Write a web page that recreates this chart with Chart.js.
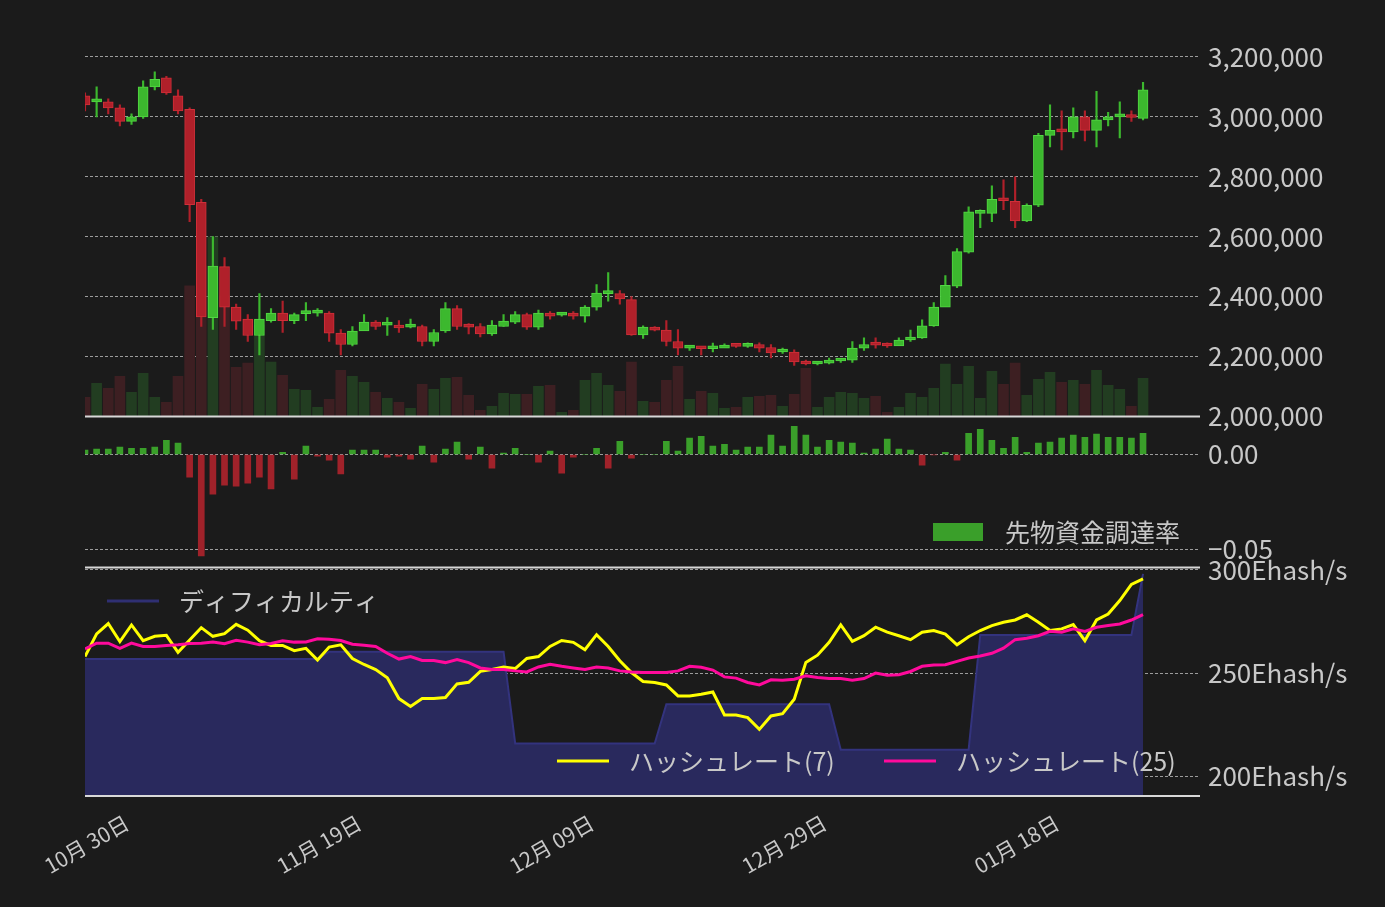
<!DOCTYPE html>
<html><head><meta charset="utf-8">
<script src="https://cdn.jsdelivr.net/npm/chart.js@4/dist/chart.umd.min.js"></script>
<style>
html,body{margin:0;padding:0;background:#1b1b1b;width:1385px;height:907px;overflow:hidden}
canvas{position:absolute;left:0}
</style></head><body>
<canvas id="c1" style="top:0" width="1385" height="440"></canvas>
<canvas id="c2" style="top:392px" width="1385" height="199"></canvas>
<canvas id="c3" style="top:542px" width="1385" height="365"></canvas>
<script>
const dateLabels = ["10月 30日","11月 19日","12月 09日","12月 29日","01月 18日"];
const dateTickIdx = [0,20,40,60,80];
const priceTicks = [2000000,2200000,2400000,2600000,2800000,3000000,3200000];
const opens = [3070,3050,3050,3030,2985,3000,3100,3130,3070,3025,2715,2330,2500,2365,2325,2270,2320,2345,2320,2343,2345,2345,2278,2240,2285,2315,2305,2305,2298,2300,2250,2285,2360,2305,2300,2275,2300,2315,2340,2298,2345,2338,2338,2335,2365,2410,2410,2390,2272,2298,2288,2250,2228,2230,2226,2228,2238,2234,2240,2230,2215,2215,2182,2175,2178,2185,2188,2228,2240,2238,2235,2255,2262,2302,2365,2435,2548,2678,2678,2725,2718,2653,2705,2938,2955,2950,3000,2955,2990,3000,3005,2995];
const closes = [3040,3052,3030,2985,3000,3100,3125,3080,3020,2707,2332,2502,2365,2318,2270,2325,2345,2320,2340,2343,2345,2278,2240,2285,2315,2300,2305,2295,2298,2250,2280,2360,2300,2298,2275,2305,2318,2340,2298,2345,2335,2338,2335,2365,2412,2410,2392,2272,2298,2288,2250,2228,2228,2226,2230,2238,2234,2240,2228,2212,2215,2182,2175,2178,2185,2188,2228,2240,2238,2235,2255,2262,2302,2365,2438,2550,2683,2678,2725,2720,2653,2705,2938,2955,2950,3000,2955,2990,3000,3005,2998,3090];
const highs = [3080,3100,3060,3040,3010,3120,3150,3135,3090,3030,2725,2600,2530,2375,2340,2410,2360,2385,2345,2380,2360,2350,2290,2300,2340,2320,2330,2320,2325,2305,2290,2380,2370,2310,2310,2320,2340,2350,2345,2355,2350,2345,2350,2370,2440,2480,2420,2400,2302,2300,2320,2290,2235,2232,2245,2242,2244,2246,2246,2240,2228,2222,2188,2182,2195,2190,2250,2262,2262,2246,2262,2288,2322,2380,2470,2560,2700,2690,2770,2790,2800,2710,2945,3040,3020,3030,3020,3085,3015,3050,3020,3115];
const lows = [3020,3000,3010,2970,2975,2995,3090,3075,3010,2650,2300,2290,2300,2290,2250,2205,2315,2280,2310,2320,2335,2250,2205,2235,2305,2290,2270,2280,2295,2235,2235,2280,2290,2275,2265,2270,2300,2310,2290,2290,2325,2335,2325,2315,2355,2385,2375,2270,2260,2285,2235,2205,2220,2205,2215,2230,2230,2230,2215,2195,2210,2170,2172,2172,2175,2180,2180,2220,2228,2230,2240,2250,2260,2300,2370,2430,2545,2630,2650,2690,2630,2650,2700,2900,2890,2930,2920,2900,2970,2930,2985,2990];
const volumes = [19,33,28,40,24,43,19,14,40,130,150,179,120,49,53,91,54,41,27,26,9,17,46,40,34,24,18,14,8,32,27,38,39,21,6,10,23,22,22,30,31,4,6,36,43,31,25,54,15,14,36,50,17,25,23,8,9,19,20,21,10,22,48,9,19,24,23,18,20,4,9,23,19,28,52,32,50,18,45,32,53,21,37,44,34,36,32,46,31,27,10,38];
const funding = [0.0023,0.0028,0.0028,0.0039,0.0033,0.0033,0.0039,0.0075,0.0060,-0.0119,
-0.0535,-0.0209,-0.0161,-0.0167,-0.0151,-0.0119,-0.0182,0.0012,-0.0130,0.0044,
-0.0009,-0.0030,-0.0103,0.0023,0.0023,0.0023,-0.0014,-0.0009,-0.0025,0.0044,
-0.0040,0.0028,0.0065,-0.0025,0.0039,-0.0072,0.0007,0.0033,0,-0.0040,
0.0018,-0.0098,-0.0014,0,0.0033,-0.0072,0.0070,-0.0019,0,0,
0.0070,0.0018,0.0086,0.0096,0.0044,0.0054,0.0023,0.0039,0.0039,0.0102,
0.0044,0.0149,0.0102,0.0039,0.0075,0.0065,0.0060,0.0007,0.0028,0.0081,
0.0028,0.0023,-0.0056,-0.0002,0.0012,-0.0030,0.0112,0.0133,0.0075,0.0033,
0.0091,0.0012,0.0060,0.0065,0.0086,0.0102,0.0091,0.0107,0.0091,0.0091,
0.0086,0.0112];
const hash7 = [258,269,274,265.3,273.3,265.7,267.8,268.3,260.1,266,272,267.8,269.1,273.6,270.8,265.7,263.4,263.4,260.9,262,256.3,262.6,263.7,257.1,254.2,251.7,247.8,237.7,233.9,237.7,237.7,238.2,244.8,245.6,250.9,251.8,253,252.2,257.1,258,262.9,265.8,264.9,261.3,268.6,262.9,256,
250.3,246,245.5,244.3,239,239,239.8,240.9,229.8,229.8,228.5,222.8,229.3,230.4,237.4,255.2,258.7,264.9,273.3,265.4,268.1,272.2,269.8,268.1,266.2,269.8,270.6,268.9,263.7,267.6,270.6,273,274.6,275.7,278.2,274.6,270.6,271.4,273.5,265.7,275.7,278.6,285.1,292.9,295.6];
const hash25 = [261.7,264.5,264.5,262,264.5,262.9,262.9,263.4,263.7,264.3,264.5,265,264.2,265.9,265,263.7,264.3,265.7,265,265.1,266.6,266.4,265.8,264,263.5,262.9,259.6,256.8,258,256.1,256.1,255.1,256.6,255.1,252.5,251.8,251.8,251.1,250.6,253,254.3,253.3,252.5,251.8,253,252.5,251.1,
250.6,250.3,250.3,250.3,251.1,253.3,252.8,251.5,248.2,247.6,245.5,244.3,246.8,246.6,247.1,248.7,247.9,247.4,247.4,246.6,247.4,250,249,249.2,250.8,253.3,253.9,254.1,255.7,257.3,258.3,259.6,262.1,266.2,266.9,268.1,270.2,269.8,271.4,270.2,272.2,273,273.8,275.7,278.3];
const difficulty = [256.8,256.8,256.8,256.8,256.8,256.8,256.8,256.8,256.8,256.8,256.8,256.8,256.8,256.8,256.8,256.8,256.8,256.8,256.8,256.8,256.8,
260.4,260.4,260.4,260.4,260.4,260.4,260.4,260.4,260.4,260.4,260.4,260.4,260.4,260.4,260.4,260.4,
216,216,216,216,216,216,216,216,216,216,216,216,216,
235,235,235,235,235,235,235,235,235,235,235,235,235,235,235,
213,213,213,213,213,213,213,213,213,213,213,213,
268.4,268.4,268.4,268.4,268.4,268.4,268.4,268.4,268.4,268.4,268.4,268.4,268.4,268.4,298];

const FONT = "'Noto Sans CJK JP','Noto Sans',sans-serif";
const TXT = '#c8c8c8';
const XMAX = 95.9;
const GREEN='#3cb82e', GREEN_B='#52d843', RED='#b0202a', RED_B='#d12f39';

function sepLine(){return {id:'sep',afterDraw(ch){const a=ch.chartArea,c=ch.ctx;c.save();c.strokeStyle='#d8d8d8';c.lineWidth=2;c.beginPath();c.moveTo(a.left,a.bottom);c.lineTo(a.right,a.bottom);c.stroke();c.restore();}};}
function yAxis(min,max,ticks,fmt){return {position:'right',min,max,
  afterBuildTicks(s){s.ticks=ticks.map(v=>({value:v}));},
  afterFit(s){s.width=185;},
  grid:{color:'rgba(200,200,200,0.75)',lineWidth:1,drawTicks:false},
  border:{display:false,dash:[3,2]},
  ticks:{color:TXT,font:{family:FONT,size:26},padding:8,callback:fmt}};}
const xHidden={type:'linear',min:0,max:XMAX,display:false,offset:false};

const idx = closes.map((_,i)=>i);
const up = idx.map(i=>closes[i]>=opens[i]);

new Chart(document.getElementById('c1'),{
  type:'bar',
  data:{datasets:[
    {data:idx.map(i=>({x:i,y:[opens[i]*1000,closes[i]*1000]})),backgroundColor:idx.map(i=>up[i]?GREEN:RED),borderColor:idx.map(i=>up[i]?GREEN_B:RED_B),borderWidth:1,borderSkipped:false,barThickness:10,minBarLength:3,order:1,grouped:false},
    {data:idx.map(i=>({x:i,y:[lows[i]*1000,highs[i]*1000]})),backgroundColor:idx.map(i=>up[i]?GREEN:RED),barThickness:1.5,order:2,grouped:false},
    {data:idx.map(i=>({x:i,y:volumes[i]})),yAxisID:'v',backgroundColor:idx.map(i=>up[i]?'#223d21':'#3d1f22'),barThickness:10,order:3,grouped:false}
  ]},
  options:{animation:false,responsive:false,devicePixelRatio:1,
    layout:{padding:{left:85,top:42,bottom:8}},
    plugins:{legend:{display:false},tooltip:{enabled:false}},
    scales:{x:xHidden,
      y:yAxis(2000000,3250000,priceTicks,v=>v.toLocaleString('en-US')),
      v:{display:false,min:0,max:373}}},
  plugins:[sepLine()]
});

new Chart(document.getElementById('c2'),{
  type:'bar',
  data:{datasets:[{label:'先物資金調達率',data:idx.map(i=>({x:i,y:funding[i]})),backgroundColor:idx.map(i=>funding[i]>=0?'#3a9f2a':'#a0222a'),barThickness:6}]},
  options:{animation:false,responsive:false,devicePixelRatio:1,
    layout:{padding:{left:85,top:11,bottom:4}},
    plugins:{legend:{display:false},tooltip:{enabled:false}},
    scales:{x:xHidden,y:yAxis(-0.0595,0.0205,[0,-0.05],v=>v.toFixed(2).replace('-','−'))}},
  plugins:[sepLine(),{id:'lg',afterDraw(ch){const c=ch.ctx;c.save();c.fillStyle='#3a9f2a';c.fillRect(933,131,50,18);c.fillStyle=TXT;c.font='25px '+FONT;c.textBaseline='middle';c.fillText(ch.data.datasets[0].label,1005,140);c.restore();}}]
});

new Chart(document.getElementById('c3'),{
  type:'line',
  data:{datasets:[
    {label:'ハッシュレート(7)',data:idx.map(i=>({x:i,y:hash7[i]})),borderColor:'#ffff00',borderWidth:3,pointRadius:0,fill:false,order:1},
    {label:'ハッシュレート(25)',data:idx.map(i=>({x:i,y:hash25[i]})),borderColor:'#ff0a9c',borderWidth:3,pointRadius:0,fill:false,order:0},
    {label:'ディフィカルティ',data:idx.map(i=>({x:i,y:difficulty[i]})),borderColor:'#33337e',backgroundColor:'#29295d',borderWidth:2,pointRadius:0,fill:'start',order:3}
  ]},
  options:{animation:false,responsive:false,devicePixelRatio:1,
    layout:{padding:{left:85,top:7}},
    plugins:{legend:{display:false},tooltip:{enabled:false}},
    scales:{
      x:{type:'linear',min:0,max:XMAX,
        afterBuildTicks(s){s.ticks=dateTickIdx.map(v=>({value:v}));},
        afterFit(s){s.height=111;s.paddingLeft=0;s.paddingRight=0;},
        grid:{display:false},border:{display:false},
        ticks:{color:TXT,font:{family:FONT,size:21},minRotation:30,maxRotation:30,labelOffset:42,padding:6,
          callback:v=>dateLabels[dateTickIdx.indexOf(v)]}},
      y:yAxis(190.6,302,[200,250,300],v=>v+'Ehash/s')}},
  plugins:[sepLine(),{id:'lg',afterDraw(ch){const c=ch.ctx,d=ch.data.datasets;c.save();c.font='25px '+FONT;c.textBaseline='middle';c.lineWidth=3;
    const items=[[d[2],107,59,'#2f2f72'],[d[0],557,219,'#ffff00'],[d[1],884,219,'#ff0a9c']];
    for(const [ds,x,y,col] of items){c.strokeStyle=col;c.beginPath();c.moveTo(x,y);c.lineTo(x+52,y);c.stroke();c.fillStyle=TXT;c.fillText(ds.label,x+72,y);}
    c.restore();}}]
});
</script></body></html>
